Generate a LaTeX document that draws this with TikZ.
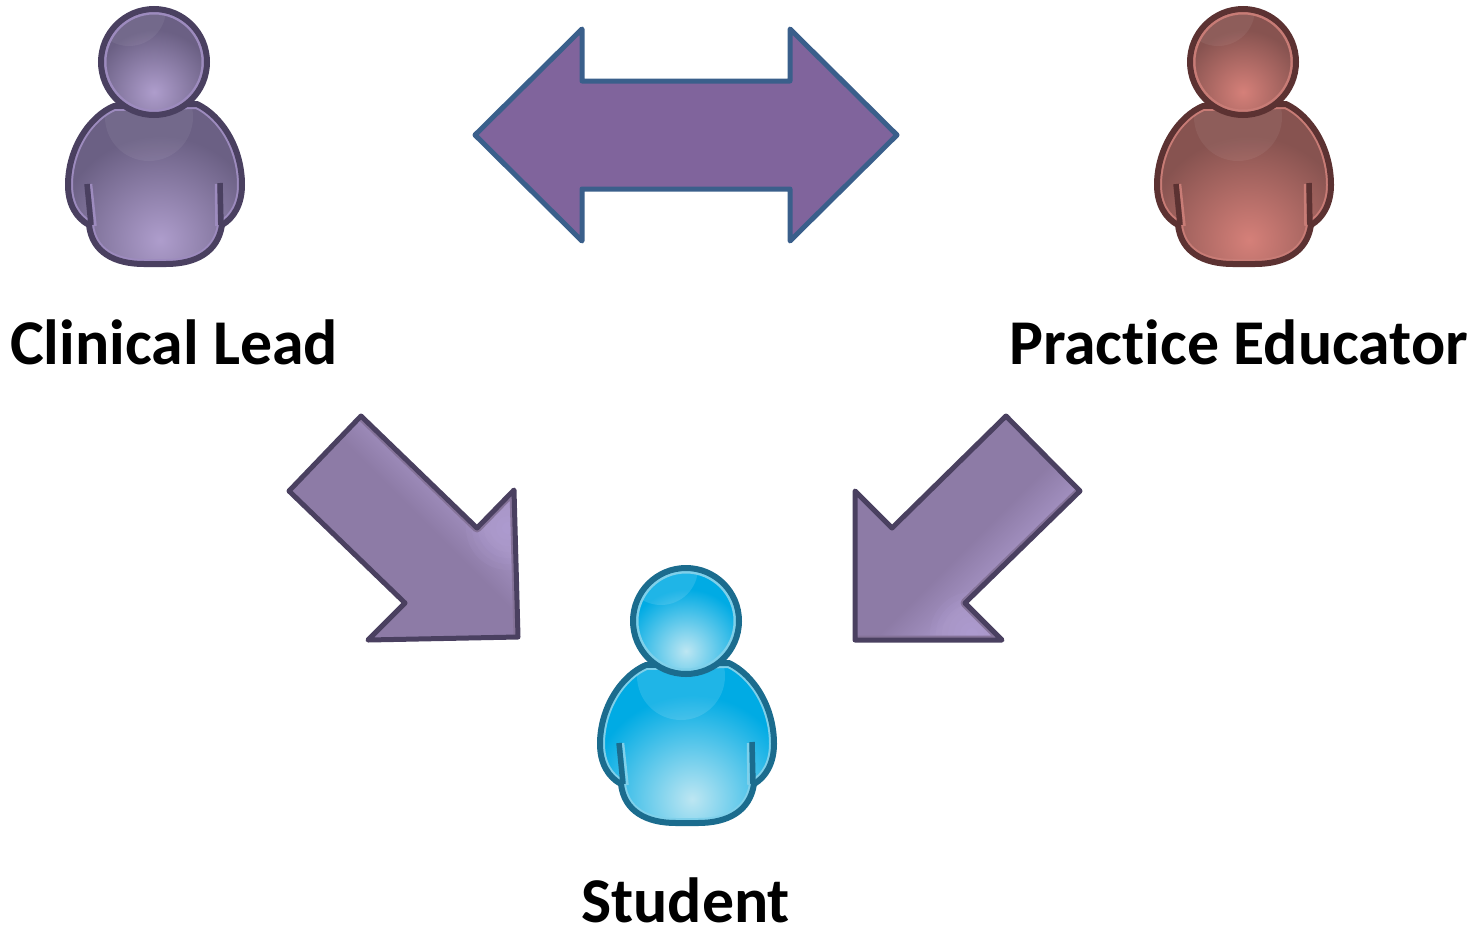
\documentclass[tikz,border=0pt]{standalone}
\usepackage{fontspec}
\setmainfont[Ligatures=NoCommon]{Carlito}
\tikzset{
  labeltext/.style={font=\fontsize{63.8}{66}\selectfont\bfseries,text=black,inner sep=0pt,anchor=base west},
  arrowedge/.style={pdark,line width=5pt,line join=round},
  arrowrim/.style={arrowedgetint,line width=9pt,line join=round},
}
\newcommand{\personicon}[7]{% x,y,dark,rim,base,light,sheen opacity
  \begin{scope}[shift={(#1,#2)}]
    \def\bodypath{(-40,44) .. controls (-64,54) and (-86,86) .. (-86,123) .. controls (-86,142) and (-78,156) .. (-65,163) .. controls (-62,190) and (-40,202) .. (-10,202) -- (12,202) .. controls (42,202) and (64,190) .. (68,163) .. controls (80,156) and (88,142) .. (88,123) .. controls (88,86) and (68,54) .. (43,42) -- cycle}
    \begin{scope}
      \clip \bodypath;
      \fill[#5] (-100,30) rectangle (100,210);
      \shade[inner color=#6,outer color=#5] (6,178) circle (104);
      \fill[white,opacity=#7] (-5,55) circle (44);
      \draw[#4,line width=10pt] \bodypath;
    \end{scope}
    \draw[#3,line width=6pt,line join=round] \bodypath;
    \draw[#4,line width=2.5pt] (-63,122) -- (-58.5,164);
    \draw[#4,line width=2.5pt] (62,122) -- (62.5,164);
    \draw[#3,line width=5.5pt] (-67,122) -- (-63,163);
    \draw[#3,line width=5.5pt] (66,121) -- (67,163);
    \begin{scope}
      \clip (0,0) circle (53);
      \fill[#5] (-60,-60) rectangle (60,60);
      \shade[inner color=#6,outer color=#5] (0,30) circle (62);
      \fill[white,opacity=#7] (-25,-53) circle (37);
    \end{scope}
    \draw[#4,line width=3pt] (0,0) circle (49);
    \draw[#3,line width=6pt,fill=none] (0,0) circle (53);
  \end{scope}
}
\definecolor{pdark}{HTML}{4A4060}
\definecolor{prim}{HTML}{9D8BBE}
\definecolor{pbase}{HTML}{6B6084}
\definecolor{plight}{HTML}{AE9DCC}
\definecolor{rdark}{HTML}{5C3232}
\definecolor{rrim}{HTML}{C87C76}
\definecolor{rbase}{HTML}{875350}
\definecolor{rlight}{HTML}{D58079}
\definecolor{bdark}{HTML}{1B6C8E}
\definecolor{brim}{HTML}{7FD0EA}
\definecolor{bbase}{HTML}{00ABE4}
\definecolor{blight}{HTML}{BDE6F2}
\definecolor{arrowbase}{HTML}{8D7BA6}
\definecolor{arrowlight}{HTML}{A290C0}
\definecolor{arrowbright}{HTML}{C0AEE6}
\definecolor{arrowedgetint}{HTML}{857399}
\pgfdeclareverticalshading{arrowband}{100bp}{color(0bp)=(arrowbase);color(50bp)=(arrowbase);color(55bp)=(arrowlight);color(100bp)=(arrowlight)}
\begin{document}
\begin{tikzpicture}[x=1pt,y=-1pt]
  \useasboundingbox (0,0) rectangle (1483,927);
  \personicon{154}{62}{pdark}{prim}{pbase}{plight}{0.06}
  \personicon{1243}{62}{rdark}{rrim}{rbase}{rlight}{0.06}
  \personicon{686}{621}{bdark}{brim}{bbase}{blight}{0.12}
  % double arrow
  \draw[fill={rgb,255:red,128;green,100;blue,156},draw={rgb,255:red,58;green,95;blue,139},line width=5pt,line join=round]
    (475,135) -- (582,29) -- (582,81) -- (790,81) -- (790,29) -- (897,135) -- (790,241) -- (790,189) -- (582,189) -- (582,241) -- cycle;
  % left arrow
  \begin{scope}
    \clip (361,416) -- (289,491) -- (405,603) -- (368,640) -- (518,637) -- (514,490) -- (477,528) -- cycle;
    \shade[shading=arrowband,shading angle=-45] (224,322) rectangle (624,722);
    \foreach \r in {6,12,...,42} \fill[arrowbright,opacity=0.08] (508,528) circle (\r);
    \draw[arrowrim] (361,416) -- (477,528) -- (514,490) -- (518,637);
  \end{scope}
  \draw[arrowedge] (361,416) -- (289,491) -- (405,603) -- (368,640) -- (518,637) -- (514,490) -- (477,528) -- cycle;
  % right arrow
  \begin{scope}
    \clip (1006,416) -- (1080,491) -- (965,603) -- (1002,640) -- (855,640) -- (855,491) -- (892,528) -- cycle;
    \shade[shading=arrowband,shading angle=-135] (773,340) rectangle (1173,740);
    \foreach \r in {6,12,...,42} \fill[arrowbright,opacity=0.08] (972,634) circle (\r);
    \draw[arrowrim] (1080,491) -- (965,603) -- (1002,640) -- (855,640);
  \end{scope}
  \draw[arrowedge] (1006,416) -- (1080,491) -- (965,603) -- (1002,640) -- (855,640) -- (855,491) -- (892,528) -- cycle;
  \node[labeltext] (clinicalLabel) at (10,364) {Clinical Lead};
  \node[labeltext] (educatorLabel) at (1009,364) {Practice Educator};
  \node[labeltext] (studentLabel) at (581,922) {Student};
\end{tikzpicture}
\end{document}
